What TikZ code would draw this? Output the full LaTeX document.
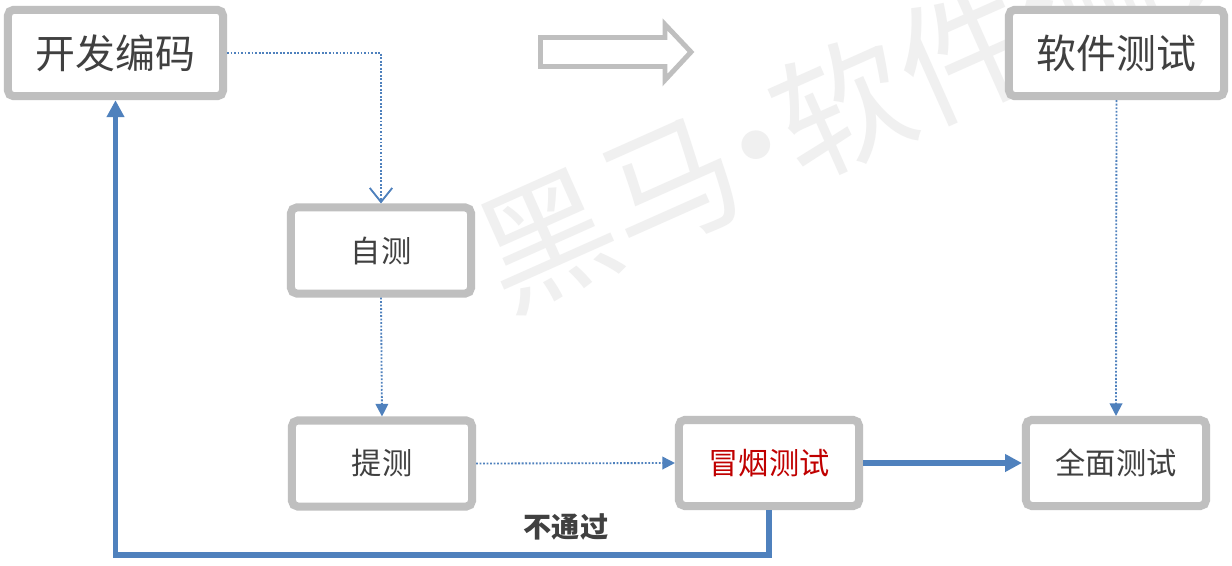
\documentclass[tikz,border=0pt]{standalone}
\usepackage{fontspec}
\newfontfamily\cjk{Noto Sans CJK SC}
\usetikzlibrary{arrows.meta}
\definecolor{bgray}{HTML}{BFBFBF}
\definecolor{lblue}{HTML}{4F81BD}
\definecolor{tdark}{HTML}{404040}
\definecolor{tred}{HTML}{C00000}
\definecolor{wmgray}{HTML}{F0F0F0}
\begin{document}
\begin{tikzpicture}[x=0.025cm,y=-0.025cm,
  box/.style={draw=bgray, line width=5.7pt, fill=white, rounded corners=4pt, inner sep=0pt,
    text=tdark, font=\cjk\fontsize{21.5}{24}\selectfont, minimum width=4.5cm, minimum height=2.15cm},
  bigbox/.style={box, minimum width=5.375cm, minimum height=2.16cm, font=\cjk\fontsize{28.4}{32}\selectfont},
  dotline/.style={draw=lblue, line width=1.3pt, dash pattern=on 1.3pt off 1.2pt},
  thickline/.style={draw=lblue, line width=3.6pt},
  tri/.style={-{Triangle[length=9pt,width=9pt]}},
  bigtri/.style={-{Triangle[length=12pt,width=12pt]}},
  barb/.style={-{Straight Barb[length=10pt,width=16pt,line width=1.3pt]}},
]
\fill[white] (0,0) rectangle (1232,566);
\useasboundingbox (0,0) rectangle (1232,566);
% watermark
\node[rotate=24, anchor=west, text=wmgray, inner sep=0pt, font=\cjk\fontsize{96}{100}\selectfont] (wm) at (485,266) {黑马\kern-29pt·\kern-29pt软件测试};
% hollow arrow
\draw[bgray, line width=3.5pt, line join=miter] (540.5,37.5) -- (665,37.5) -- (665,24.5) -- (691,52) -- (665,80) -- (665,66.5) -- (540.5,66.5) -- cycle;
% boxes
\node[bigbox] (kf) at (115.5,53) {开发编码};
\node[bigbox] (rj) at (1116.5,53) {软件测试};
\node[box] (zc) at (381,250.5) {自测};
\node[box] (tc) at (382,463.5) {提测};
\node[box, text=tred] (yw) at (769,463) {冒烟测试};
\node[box] (qm) at (1116,463) {全面测试};
% connectors
\draw[dotline, barb] (kf.east) -| (zc.north);
\draw[dotline, tri] (zc.south) -- (tc.north);
\draw[dotline, tri] (tc.east) -- (yw.west);
\draw[dotline, tri] (rj.south) -- (qm.north);
\draw[thickline, bigtri] (yw.east) -- (qm.west);
\coordinate (bl) at (114,555);
\coordinate (br) at (768,555);
\draw[thickline, bigtri, line join=miter] (yw.south) -- (yw.south |- br) -- (kf.south |- bl) -- (kf.south);
\node[font=\cjk\bfseries\fontsize{20}{22}\selectfont, text=tdark] (lbl) at (566,527) {不通过};
\end{tikzpicture}
\end{document}
